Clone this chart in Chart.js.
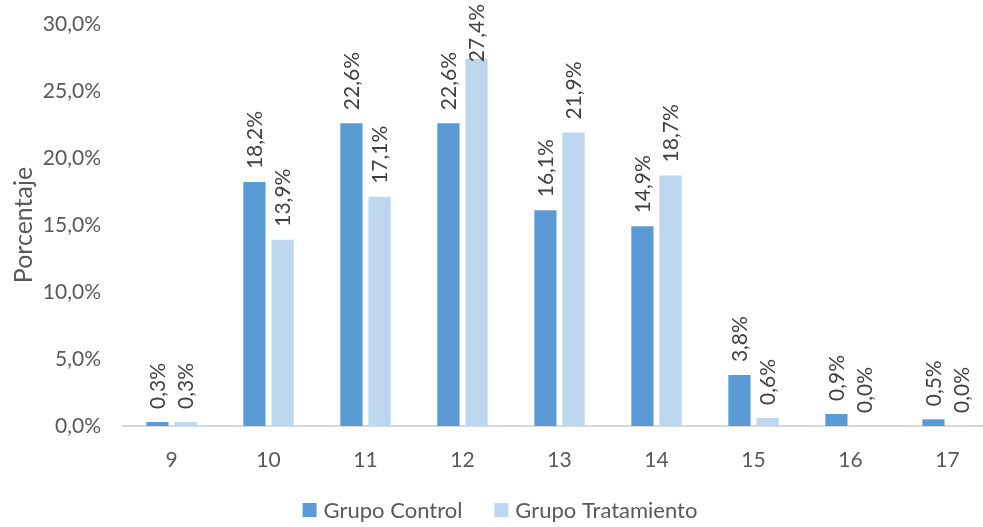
<!DOCTYPE html>
<html>
<head>
<meta charset="utf-8">
<script src="https://cdn.jsdelivr.net/npm/chart.js@4.4.0/dist/chart.umd.min.js"></script>
<style>
  html, body { margin: 0; padding: 0; background: #fff; overflow: hidden; }
  #wrap { width: 1000px; height: 527px; }
</style>
</head>
<body>
<div id="wrap"><canvas id="myChart"></canvas></div>
<script>
const categorias = ['9', '10', '11', '12', '13', '14', '15', '16', '17'];
const grupoControl = [0.3, 18.2, 22.6, 22.6, 16.1, 14.9, 3.8, 0.9, 0.5];
const grupoTratamiento = [0.3, 13.9, 17.1, 27.4, 21.9, 18.7, 0.6, 0.0, 0.0];
const ticksY = [0, 5, 10, 15, 20, 25, 30];

const fuente = 'Lato, "Open Sans", sans-serif';
const gris = '#595959';

function fmt(v) {
    return v.toFixed(1).replace('.', ',') + '%';
}

// etiquetas giradas encima de cada barra
const etiquetas = {
    id: 'etiquetas',
    afterDatasetsDraw(chart) {
        const ctx = chart.ctx;
        chart.data.datasets.forEach((ds, i) => {
            const meta = chart.getDatasetMeta(i);
            meta.data.forEach((bar, j) => {
                const txt = fmt(ds.data[j]);
                ctx.save();
                ctx.font = '21px ' + fuente;
                const w = ctx.measureText(txt).width;
                let y0 = bar.y - 13;
                if (y0 - w < 4) y0 = 4 + w; // no salir por arriba
                ctx.translate(bar.x + 1, y0);
                ctx.rotate(-Math.PI / 2);
                ctx.fillStyle = '#404040';
                ctx.textAlign = 'left';
                ctx.textBaseline = 'middle';
                ctx.fillText(txt, 0, 0);
                ctx.restore();
            });
        });
    }
};

// leyenda propia abajo (mas espacio entre elementos)
const leyenda = {
    id: 'leyenda',
    afterDraw(chart) {
        const ctx = chart.ctx;
        const items = chart.data.datasets;
        ctx.save();
        ctx.font = '22px ' + fuente;
        const caja = 14, sep = 7, hueco = 32;
        let total = 0;
        items.forEach((ds, i) => {
            total += caja + sep + ctx.measureText(ds.label).width;
            if (i < items.length - 1) total += hueco;
        });
        let x = chart.width / 2 - total / 2;
        const y = 510;
        items.forEach(ds => {
            ctx.fillStyle = ds.backgroundColor;
            ctx.fillRect(x, y - caja / 2, caja, caja);
            x += caja + sep;
            ctx.fillStyle = gris;
            ctx.textAlign = 'left';
            ctx.textBaseline = 'middle';
            ctx.fillText(ds.label, x, y + 1);
            x += ctx.measureText(ds.label).width + hueco;
        });
        ctx.restore();
    }
};

const ctx = document.getElementById('myChart');
const myChart = new Chart(ctx, {
    type: 'bar',
    data: {
        labels: categorias,
        datasets: [{
            label: 'Grupo Control',
            data: grupoControl,
            backgroundColor: '#5B9BD5',
            categoryPercentage: 0.58,
            barPercentage: 0.79
        }, {
            label: 'Grupo Tratamiento',
            data: grupoTratamiento,
            backgroundColor: '#BDD7EE',
            categoryPercentage: 0.58,
            barPercentage: 0.79
        }]
    },
    options: {
        responsive: true,
        maintainAspectRatio: false,
        animation: false,
        layout: { padding: { top: 0, left: 0, right: 4, bottom: 41 } },
        plugins: {
            tooltip: { enabled: false },
            legend: { display: false }
        },
        scales: {
            x: {
                afterFit(scale) { scale.height = 60; },
                grid: { display: false, drawTicks: false },
                border: { color: '#D9D9D9', width: 2 },
                ticks: { color: gris, padding: 22, font: { family: fuente, size: 21 } }
            },
            y: {
                min: 0,
                max: 30,
                afterBuildTicks(scale) {
                    scale.ticks = ticksY.map(v => ({ value: v }));
                },
                afterFit(scale) {
                    scale.width = 123;
                    scale.paddingTop = 24;
                    scale.paddingBottom = 0;
                },
                grid: { display: false, drawTicks: false },
                border: { display: false },
                title: {
                    display: true,
                    text: 'Porcentaje',
                    color: gris,
                    font: { family: fuente, size: 25 },
                    padding: { top: 9, bottom: 10 }
                },
                ticks: {
                    color: gris,
                    padding: 22,
                    font: { family: fuente, size: 21 },
                    callback: v => fmt(v)
                }
            }
        }
    },
    plugins: [etiquetas, leyenda]
});
</script>
</body>
</html>
